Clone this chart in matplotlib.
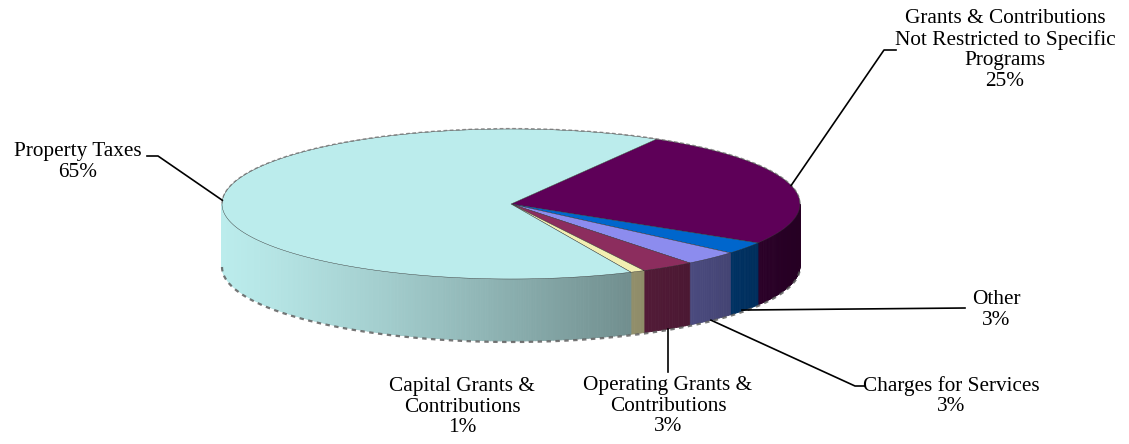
import numpy as np
import matplotlib.pyplot as plt
from matplotlib.collections import PolyCollection
from matplotlib.colors import to_rgb

# slices in clockwise order, starting from the top-right
labels = ["Grants & Contributions\nNot Restricted to Specific\nPrograms",
          "Other",
          "Charges for Services",
          "Operating Grants &\nContributions",
          "Capital Grants &\nContributions",
          "Property Taxes"]
values = [25.3, 2.6, 3.1, 3.0, 0.8, 65.2]
colors = ["#5E0058", "#0066CC", "#8C8CEE", "#8C2D5E", "#F2EEB2", "#BBECEC"]

# pie geometry (pixels)
cx, cy, rx, ry, depth = 511, 204, 289, 75, 62
start = 59.8

plt.rcParams['font.family'] = ['Liberation Serif', 'DejaVu Serif']

fig = plt.figure(figsize=(11.29, 4.44), dpi=100)
ax = fig.add_axes([0, 0, 1, 1])
ax.set_xlim(0, 1129)
ax.set_ylim(444, 0)
ax.axis('off')


def rim(theta, dy=0):
    t = np.radians(theta)
    return cx + rx * np.cos(t), cy - ry * np.sin(t) + dy


def shade(x):
    t = np.clip((x - (cx - rx)) / (2 * rx), 0, 1)
    return 1 - 0.6 * t ** 1.2


# wedge angles
bounds = [start]
for v in values:
    bounds.append(bounds[-1] - v * 3.6)

# side walls (front half only)
side_polys, side_cols = [], []
for i, c in enumerate(colors):
    a0, a1 = bounds[i], bounds[i + 1]
    lo, hi = max(a1, -180), min(a0, 0)
    if hi <= lo:
        continue
    th = np.linspace(lo, hi, max(int((hi - lo) * 2), 2))
    base = np.array(to_rgb(c))
    for t0, t1 in zip(th[:-1], th[1:]):
        x0, y0 = rim(t0)
        x1, y1 = rim(t1)
        side_polys.append([(x0, y0), (x1, y1), (x1, y1 + depth), (x0, y0 + depth)])
        side_cols.append(np.clip(base * shade((x0 + x1) / 2), 0, 1))
ax.add_collection(PolyCollection(side_polys, facecolors=side_cols,
                                 edgecolors=side_cols, linewidths=0.6))

# soft shadow edge along the bottom
th = np.linspace(-180, 0, 200)
bx, by = rim(th, depth + 1)
ax.plot(bx, by, color='#555555', lw=1.6, ls=(0, (2, 2)), alpha=0.8)

# top faces
for i, c in enumerate(colors):
    th = np.linspace(bounds[i], bounds[i + 1], 200)
    x, y = rim(th)
    pts = np.column_stack([np.r_[cx, x], np.r_[cy, y]])
    ax.fill(pts[:, 0], pts[:, 1], color=c, ec='#303030', lw=0.3)

# dashed back rim
th = np.linspace(0, 180, 200)
tx, ty = rim(th, -0.5)
ax.plot(tx, ty, color='#666666', lw=0.9, ls=(0, (3, 2)), alpha=0.7)

# labels and leader lines
mids = [(bounds[i] + bounds[i + 1]) / 2 for i in range(len(values))]
text_pos = [(1005, 50), (996, 310), (951, 396), (668, 406), (462, 407), (78, 162)]
fs = 15.3

for i, lab in enumerate(labels):
    tx_, ty_ = text_pos[i]
    ax.text(tx_, ty_, f"{lab}\n{values[i]:.0f}%", ha='center', va='center',
            fontsize=fs, color='black', linespacing=1.1)

# leaders: top-rim anchors for Grants and Property, side-bottom for the rest
gx, gy = rim(mids[0])
ax.plot([896, 884, gx], [50, 50, gy], color='black', lw=1.2)
px, py = rim(mids[5])
ax.plot([147, 158, px], [156, 156, py], color='black', lw=1.2)
ox, oy = rim(mids[1], depth)
ax.plot([ox - 3, 965], [oy, 308], color='black', lw=1.2)
chx, chy = rim(mids[2], depth)
ax.plot([chx, 855, 865], [chy, 386, 386], color='black', lw=1.2)
opx, opy = rim(mids[3], depth)
ax.plot([opx, opx], [opy, 372], color='black', lw=1.2)

fig.savefig('out.png', dpi=100)
